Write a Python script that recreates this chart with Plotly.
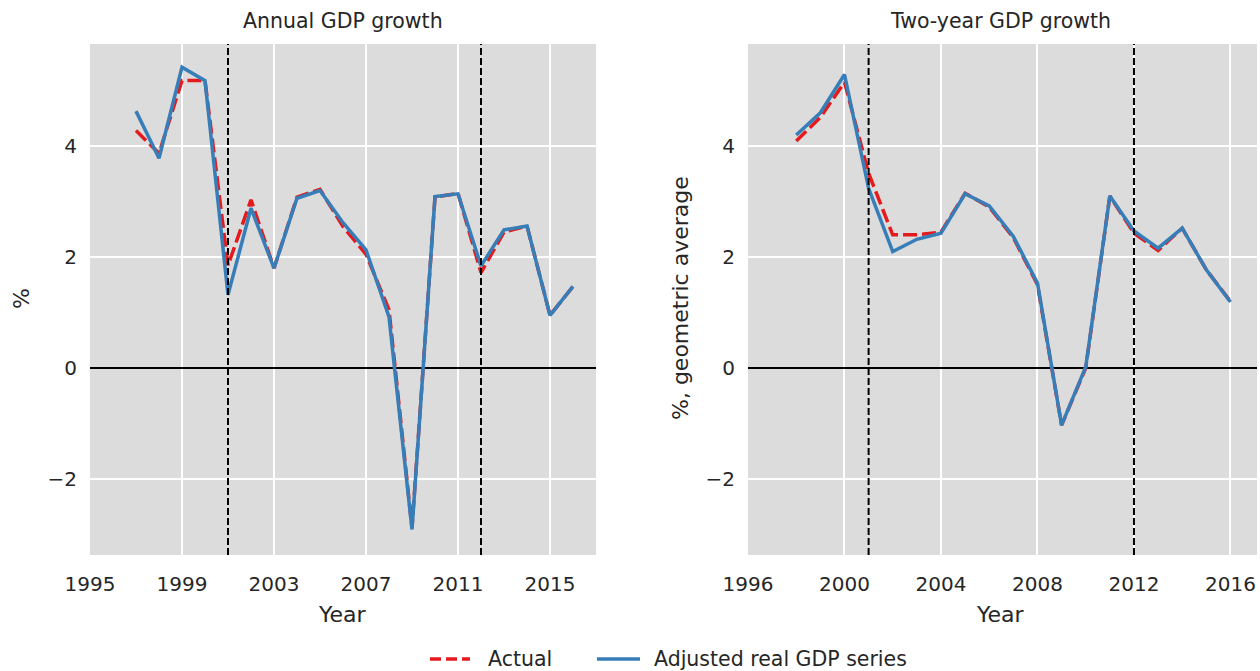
import plotly.graph_objects as go

# Annual GDP growth, %
years_annual = list(range(1997, 2017))
annual_actual = [4.28, 3.87, 5.18, 5.18, 1.85, 3.03, 1.80, 3.08, 3.22, 2.55, 2.05,
                 1.05, -2.88, 3.08, 3.15, 1.72, 2.45, 2.56, 0.95, 1.47]
annual_adjusted = [4.63, 3.78, 5.42, 5.18, 1.32, 2.88, 1.80, 3.06, 3.20, 2.62, 2.13,
                   0.92, -2.91, 3.09, 3.14, 1.84, 2.49, 2.56, 0.95, 1.47]

# Two-year GDP growth, %, geometric average
years_twoyear = list(range(1998, 2017))
twoyear_actual = [4.09, 4.52, 5.15, 3.51, 2.40, 2.40, 2.45, 3.15, 2.90, 2.35, 1.50,
                  -1.03, 0.00, 3.10, 2.43, 2.12, 2.52, 1.77, 1.20]
twoyear_adjusted = [4.20, 4.60, 5.29, 3.24, 2.10, 2.32, 2.43, 3.14, 2.92, 2.37, 1.53,
                    -1.03, 0.02, 3.10, 2.47, 2.16, 2.52, 1.77, 1.19]

# Reference years marked with dashed vertical lines
marker_years = [2001, 2012]

x_ticks_left = [1995, 1999, 2003, 2007, 2011, 2015]
x_ticks_right = [1996, 2000, 2004, 2008, 2012, 2016]
y_ticks = [-2, 0, 2, 4]
y_tick_text = ["\u22122", "0", "2", "4"]

series_names = ["Actual", "Adjusted real GDP series"]

RED = "#e41a1c"
BLUE = "#377eb8"
BG = "#dcdcdc"
FONT = "DejaVu Sans"
TXT = "#262626"
RED_DASH = "14px,5px"
LW = 3.5

red_line = dict(color=RED, width=LW, dash=RED_DASH)
blue_line = dict(color=BLUE, width=LW)

fig = go.Figure()
fig.add_trace(go.Scatter(x=years_annual, y=annual_actual, mode="lines", name=series_names[0],
                         line=red_line, xaxis="x", yaxis="y"))
fig.add_trace(go.Scatter(x=years_annual, y=annual_adjusted, mode="lines",
                         name=series_names[1], line=blue_line, xaxis="x", yaxis="y"))
fig.add_trace(go.Scatter(x=years_twoyear, y=twoyear_actual, mode="lines", name=series_names[0],
                         line=red_line, xaxis="x2", yaxis="y2"))
fig.add_trace(go.Scatter(x=years_twoyear, y=twoyear_adjusted, mode="lines",
                         name=series_names[1], line=blue_line, xaxis="x2", yaxis="y2"))

W, H = 1260, 671


def py(y_px):
    """Paper y coordinate for a pixel row measured from the top."""
    return (H - y_px) / H


top_px, bot_px = 44, 555
ydom = [py(bot_px), py(top_px)]
left_dom = [90 / W, 596 / W]
right_dom = [748 / W, 1257 / W]

tickfont = dict(family=FONT, size=20, color=TXT)
base = dict(showgrid=True, gridcolor="white", gridwidth=1.7, showline=False,
            ticks="", tickfont=tickfont, automargin=False)
xbase = dict(base, zeroline=False, ticklabelstandoff=15)
ybase = dict(base, zeroline=True, zerolinecolor="black", zerolinewidth=1.6,
             tickvals=y_ticks, ticktext=y_tick_text, range=[-3.37, 5.84],
             ticklabelstandoff=12)

fig.update_layout(
    width=W, height=H,
    margin=dict(l=0, r=0, t=0, b=0),
    paper_bgcolor="white", plot_bgcolor=BG,
    font=dict(family=FONT, color=TXT),
    xaxis=dict(xbase, domain=left_dom, range=[1995, 2017], tickvals=x_ticks_left, anchor="y"),
    yaxis=dict(ybase, domain=ydom, anchor="x"),
    xaxis2=dict(xbase, domain=right_dom, range=[1996, 2017.1], tickvals=x_ticks_right,
                anchor="y2"),
    yaxis2=dict(ybase, domain=ydom, anchor="x2"),
    showlegend=False,
)

for xr, yr_ref in (("x", "y"), ("x2", "y2")):
    for yr in marker_years:
        fig.add_shape(type="line", xref=xr, yref=f"{yr_ref} domain",
                      x0=yr, x1=yr, y0=0, y1=1,
                      line=dict(color="black", width=2, dash="7px,3px"))


def label(text, x_px, y_px, size, angle=0, anchor="center"):
    fig.add_annotation(text=text, x=x_px / W, y=py(y_px), xref="paper", yref="paper",
                       xanchor=anchor, yanchor="middle", showarrow=False, textangle=angle,
                       font=dict(family=FONT, size=size, color=TXT))


label("Annual GDP growth", 343, 21, 20.5)
label("Two-year GDP growth", 1001, 21, 20.5)
label("Year", 343, 614, 22)
label("Year", 1001, 614, 22)
label("%", 21, 299, 22, -90)
label("%, geometric average", 680, 298, 22, -90)

# Legend key below both panels
legend_y = 659
for (x0, x1, x_text), style, name in zip([(430, 470, 486), (597, 640, 652)],
                                         [red_line, blue_line], series_names):
    fig.add_shape(type="line", xref="paper", yref="paper",
                  x0=x0 / W, x1=x1 / W, y0=py(legend_y), y1=py(legend_y),
                  line=dict(style, dash="11px,5px" if style is red_line else "solid"))
    label(name, x_text, legend_y, 20.5, anchor="left")

fig.write_html("out.html")
